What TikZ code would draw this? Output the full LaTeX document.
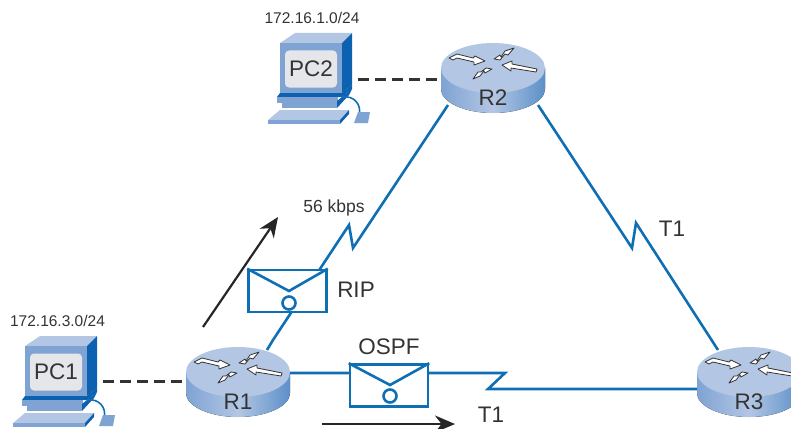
\documentclass[tikz,border=0pt]{standalone}
\usepackage{fontspec}
\setmainfont{Liberation Sans}
\usetikzlibrary{arrows.meta}
\definecolor{linkblue}{HTML}{0F6FB5}
\definecolor{devlight}{HTML}{B3C6E4}
\definecolor{devmid}{HTML}{7FA3D3}
\definecolor{devdark}{HTML}{0C62B0}
\definecolor{screengray}{HTML}{E4E6EA}
\definecolor{labelgray}{HTML}{333333}
\tikzset{
    link/.style={linkblue,line width=2.6pt,line join=miter},
    lan/.style={black!80,line width=3pt,dash pattern=on 11pt off 6pt},
    flow/.style={black!85,line width=2.2pt,-{Stealth[length=20pt,width=17pt]}},
    lbl/.style={text=labelgray,inner sep=0pt,font=\fontsize{22.5}{23}\selectfont},
    addr/.style={lbl,font=\fontsize{15.5}{16}\selectfont},
    envelope/.style={draw=linkblue,line width=2.6pt,fill=white,minimum width=78pt,minimum height=42pt,inner sep=0pt},
    ring/.style={draw=linkblue,line width=2.6pt,fill=white,circle,minimum size=13pt,inner sep=0pt},
    turn/.style={fill=white,draw=black!80,line width=.8pt,line join=round},
    % router drawn round its centre, top face at 0
    pics/router/.style={code={
        \fill[left color=devmid,right color=devmid!70!devdark,middle color=devlight]
            (-52,0) -- (-52,21) arc[start angle=180,end angle=0,x radius=52,y radius=24]
            -- (52,0) -- cycle;
        \fill[devlight] (0,0) ellipse[x radius=52,y radius=25];
        \path[turn] (-44,-10) -- (-36,-14) -- (-20,-10) -- (-18,-12) -- (-8,-7) -- (-19,-3) -- (-19,-6) -- (-36,-10) -- (-40,-8) -- cycle;
        \path[turn] (9,-3) -- (19,-7) -- (19,-4) -- (44,1) -- (43,4) -- (18,0) -- (18,3) -- cycle;
        \path[turn] (1,-9) -- (7,-13) -- (8,-11) -- (12,-17) -- (21,-20) -- (15,-13) -- (12,-14) -- (7,-8) -- cycle;
        \path[turn] (-1,1) -- (-8,5) -- (-9,3) -- (-13,8) -- (-20,11) -- (-15,4) -- (-12,4) -- (-7,0) -- cycle;
        \node[lbl] (-n) at (0,30) {#1};
    }},
    % computer, origin at the middle of the screen
    pics/computer/.style={code={
        \fill[devlight] (-32,-26) -- (-17,-36) -- (40,-36) -- (30,-26) -- cycle;
        \fill[devdark] (30,-26) -- (40,-36) -- (40,16) -- (30,24) -- cycle;
        \fill[devmid] (-32,-26) rectangle (30,24);
        \node[fill=screengray,rounded corners=4pt,minimum width=52pt,minimum height=37pt,inner sep=0pt,text=labelgray,font=\fontsize{22.5}{23}\selectfont] (-n) at (-1,0) {#1};
        \fill[devdark] (-32,24) -- (30,24) -- (40,16) -- (40,20) -- (30,28) -- (-35,28) -- cycle;
        \fill[devmid] (-35,28) rectangle (26,34);
        \fill[devmid] (-30,34) rectangle (25,39);
        \fill[devdark] (25,39) -- (25,32) -- (40,20) -- (37,26) -- cycle;
        \fill[devlight] (-44,51) -- (-32,41) -- (37,41) -- (28,51) -- cycle;
        \fill[devmid] (-44,51) rectangle (28,55);
        \fill[devdark] (28,55) -- (28,51) -- (37,41) -- (37,45) -- cycle;
        \draw[linkblue,line width=1.6pt] (30,28) .. controls (42,26) and (50,36) .. (47,46);
        \fill[devmid] (42,54) -- (46,43) -- (58,43) -- (56,54) -- cycle;
    }}
}
\begin{document}
\begin{tikzpicture}[x=1pt,y=-1pt]
    \useasboundingbox (0,0) rectangle (791,428);
    \begin{scope}
        \clip (0,0) rectangle (791,428);
        \pic (R2) at (493,68) {router=R2};
        \pic (R1) at (238,372) {router=R1};
        \pic (R3) at (749,372) {router=R3};
        \pic (PC2) at (312,69) {computer=PC2};
        \pic (PC1) at (57,372) {computer=PC1};
    \end{scope}
    % attachment points on the routers
    \coordinate (R2w) at (441,79);
    \coordinate (R2sw) at (448,105);
    \coordinate (R2se) at (538,105);
    \coordinate (R1w) at (185,381);
    \coordinate (R1ne) at (267,350);
    \coordinate (R1e) at (290,373);
    \coordinate (R3w) at (697,389);
    \coordinate (R3nw) at (718,350);
    \coordinate (PC2e) at (358,79);
    \coordinate (PC1e) at (103,381);
    \draw[lan] (PC2e) -- (R2w);
    \draw[lan] (PC1e) -- (R1w);
    % serial links
    \draw[link] (R2sw) -- (353,248) -- (349,225) -- (273,340) -- (R1ne);
    \draw[link] (R2se) -- (632,248) -- (636,223) -- (R3nw);
    \draw[link] (R1e) -- (505,373) -- (488,389) -- (R3w);
    % envelopes
    \node[envelope] (envRIP) at (287.5,291) {};
    \node[envelope] (envOSPF) at (389,385.5) {};
    \coordinate (tipRIP) at (289,291);
    \coordinate (tipOSPF) at (390,385);
    \draw[link] (envRIP.north west) -- (tipRIP) -- (envRIP.north east);
    \draw[link] (envOSPF.north west) -- (tipOSPF) -- (envOSPF.north east);
    \node[ring] (ringRIP) at (289,303) {};
    \node[ring] (ringOSPF) at (390,396) {};
    % traffic arrows
    \coordinate (flowAa) at (203,327);
    \coordinate (flowAb) at (278,217);
    \coordinate (flowBa) at (322,424);
    \coordinate (flowBb) at (455,424);
    \draw[flow] (flowAa) -- (flowAb);
    \draw[flow] (flowBa) -- (flowBb);
    % labels
    \node[addr] (addrPC2) at (312,18) {172.16.1.0/24};
    \node[addr] (addrPC1) at (57.5,321) {172.16.3.0/24};
    \node[addr,font=\fontsize{17.5}{18}\selectfont] (speed) at (334,208) {56 kbps};
    \node[lbl] (labT1a) at (672,229) {T1};
    \node[lbl] (labT1b) at (491,415) {T1};
    \node[lbl] (labRIP) at (356,290) {RIP};
    \node[lbl] (labOSPF) at (389,347) {OSPF};
\end{tikzpicture}
\end{document}
